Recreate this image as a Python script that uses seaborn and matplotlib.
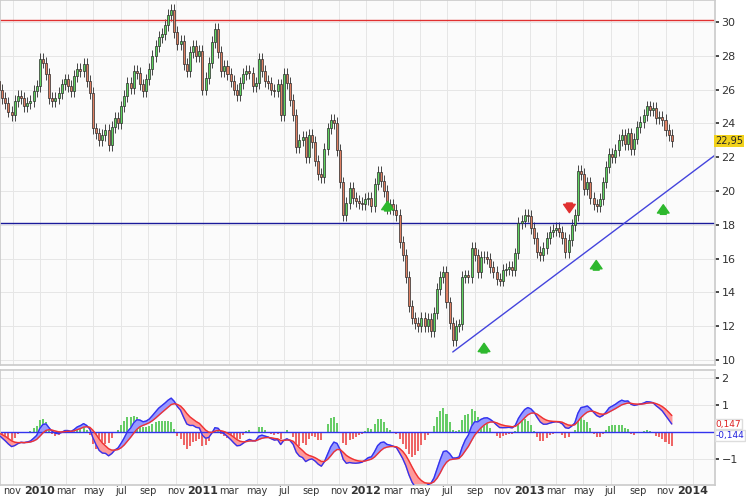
import numpy as np
import pandas as pd
import matplotlib.pyplot as plt
import matplotlib.dates as mdates
import seaborn as sns

# weekly closes
closes = [26.8, 26.5, 26.0, 25.5, 25.2, 24.7, 24.5, 25.3, 25.6, 25.5,
          25.0, 25.2, 25.3, 25.9, 26.2, 27.8, 27.6, 26.9, 25.5, 25.3,
          25.5, 25.8, 26.3, 26.6, 26.2, 25.9, 26.8, 27.2, 27.1, 27.5,
          26.5, 25.8, 23.7, 23.4, 23.0, 23.3, 23.6, 22.7, 23.8, 24.3,
          24.0, 25.0, 25.6, 26.4, 26.1, 27.1, 27.0, 26.3, 25.9, 26.6,
          27.2, 28.0, 28.6, 29.1, 29.3, 29.8, 30.4, 30.7, 29.4, 28.7,
          28.9, 27.5, 27.1, 28.2, 28.6, 28.0, 28.3, 26.0, 26.7, 27.6,
          28.8, 29.6, 28.2, 27.1, 27.4, 26.9, 26.5, 26.0, 25.7, 26.4,
          26.9, 27.1, 27.0, 26.2, 26.4, 27.8, 27.1, 26.5, 26.4, 26.0,
          25.9, 26.3, 24.5, 26.9, 26.4, 25.4, 24.5, 22.6, 23.0, 23.2,
          22.0, 23.3, 22.9, 21.8, 21.0, 20.8, 22.5, 23.7, 24.2, 24.0,
          22.4, 20.5, 18.6, 19.3, 20.2, 19.6, 19.4, 19.3, 19.2, 19.5,
          19.6, 19.1, 20.4, 21.1, 20.6, 20.0, 19.0, 19.2, 18.9, 18.6,
          17.0, 16.2, 14.9, 13.2, 12.5, 12.2, 12.0, 12.5, 12.0, 12.4,
          11.7, 12.8, 14.2, 14.9, 15.2, 13.4, 12.2, 11.2, 12.0, 12.1,
          14.9, 15.0, 14.9, 16.6, 16.2, 15.2, 16.1, 16.1, 16.0, 15.5,
          15.2, 14.8, 14.7, 15.3, 15.4, 15.5, 15.3, 16.3, 18.1, 18.2,
          18.6, 18.5, 17.8, 17.2, 16.4, 16.2, 16.6, 17.2, 17.6, 17.7,
          17.8, 17.6, 17.2, 16.4, 17.1, 18.0, 18.6, 21.2, 21.0, 20.1,
          20.5, 19.6, 19.2, 19.1, 19.5, 20.5, 21.4, 22.2,
          22.0, 22.4, 23.0, 23.3, 22.8, 23.4, 22.5, 23.1, 23.8, 24.1,
          24.5, 25.0, 24.8, 24.9, 24.3, 24.4, 24.2, 23.6, 23.3, 22.95]

resistance = 30.1
support = 18.1
trend_dates = ['2012-07-13', '2014-03-11']
trend_prices = [10.47, 22.5]
up_arrow_dates = ['2012-02-18', '2012-09-21', '2013-05-30', '2013-10-27']
up_arrow_prices = [19.1, 10.7, 15.6, 18.9]
down_arrow_dates = ['2013-03-31']
down_arrow_prices = [19.0]
macd_fast, macd_slow, macd_sig = 8, 17, 6
hist_scale = 1.6

dates = pd.date_range(end='2013-11-15', periods=len(closes), freq='W-FRI')
df = pd.DataFrame({'date': dates, 'close': closes})
df['open'] = df['close'].shift(1).fillna(df['close'].iloc[0] + 0.2)
df['high'] = df[['open', 'close']].max(axis=1) + 0.35
df['low'] = df[['open', 'close']].min(axis=1) - 0.35

ema_f = df['close'].ewm(span=macd_fast, adjust=False).mean()
ema_s = df['close'].ewm(span=macd_slow, adjust=False).mean()
df['macd'] = ema_f - ema_s
df['signal'] = df['macd'].ewm(span=macd_sig, adjust=False).mean()
df['hist'] = (df['macd'] - df['signal']) * hist_scale

sns.set_theme(style='whitegrid')
plt.rcParams['font.family'] = ['DejaVu Sans']
fig = plt.figure(figsize=(7.46, 5), dpi=100)
fig.patch.set_facecolor('white')
ax = fig.add_axes([0.0, 0.27, 0.958, 0.73])
ax2 = fig.add_axes([0.0, 0.03, 0.958, 0.23], sharex=ax)

for a in (ax, ax2):
    a.set_facecolor('#fbfbfb')
    a.grid(True, color='#e6e6e6', linewidth=0.7)
    for s in a.spines.values():
        s.set_color('#cccccc')
    a.yaxis.tick_right()
    a.tick_params(axis='y', labelsize=8, colors='#333333', pad=2, length=3)

# candles
up = df['close'] >= df['open']
ax.vlines(df['date'], df['low'], df['high'], color='#444444', linewidth=0.7, zorder=2)
ax.bar(df['date'][up], (df['close'] - df['open'])[up], bottom=df['open'][up], width=4.5,
       color='#5fd35f', edgecolor='#2a2a2a', linewidth=0.5, zorder=3)
ax.bar(df['date'][~up], (df['open'] - df['close'])[~up], bottom=df['close'][~up], width=4.5,
       color='#df8063', edgecolor='#2a2a2a', linewidth=0.5, zorder=3)

ax.axhline(resistance, color='#e03030', linewidth=1)
ax.axhline(support, color='#1a1a9a', linewidth=1)
ax.plot(pd.to_datetime(trend_dates), trend_prices, color='#4444dd', linewidth=1)

for d, p in zip(pd.to_datetime(up_arrow_dates), up_arrow_prices):
    ax.annotate('', xy=(d, p + 0.45), xytext=(d, p - 0.45),
                arrowprops=dict(arrowstyle='simple,head_width=0.7,tail_width=0.35',
                                color='#2db82d'))
for d, p in zip(pd.to_datetime(down_arrow_dates), down_arrow_prices):
    ax.annotate('', xy=(d, p - 0.45), xytext=(d, p + 0.45),
                arrowprops=dict(arrowstyle='simple,head_width=0.7,tail_width=0.35',
                                color='#e03030'))

ax.set_ylim(9.7, 31.3)
ax.set_yticks(range(10, 31, 2))
ax.text(1.001, (closes[-1] - 9.7) / (31.3 - 9.7), '22,95', transform=ax.transAxes,
        fontsize=7, va='center', ha='left',
        bbox=dict(facecolor='#f2d21b', edgecolor='none', pad=0.8))
ax.tick_params(axis='x', labelbottom=False, length=0)

# MACD panel
d = df['date']
ax2.bar(d, df['hist'], width=4.5, linewidth=0,
        color=np.where(df['hist'] >= 0, '#66cc66', '#ee6666'), zorder=1)
ax2.fill_between(d, df['macd'], df['signal'], where=df['macd'] >= df['signal'],
                 color='#9999ff', interpolate=True, zorder=2)
ax2.fill_between(d, df['macd'], df['signal'], where=df['macd'] < df['signal'],
                 color='#ff9999', interpolate=True, zorder=2)
ax2.plot(d, df['macd'], color='#3333ee', linewidth=1, zorder=3)
ax2.plot(d, df['signal'], color='#ee3333', linewidth=1, zorder=3)
ax2.axhline(0, color='#3333ee', linewidth=1)
ax2.set_ylim(-1.95, 2.3)
ax2.set_yticks([-1, 1, 2])
ax2.text(1.001, 0.53, '0,147', transform=ax2.transAxes, fontsize=6.5, color='#dd2222',
         va='center', bbox=dict(facecolor='white', edgecolor='#dddddd', pad=0.5))
ax2.text(1.001, 0.43, '-0,144', transform=ax2.transAxes, fontsize=6.5, color='#2222dd',
         va='center', bbox=dict(facecolor='white', edgecolor='#dddddd', pad=0.5))

ax2.set_xlim(pd.Timestamp('2009-10-04'), pd.Timestamp('2014-02-19'))
ax2.xaxis.set_major_locator(mdates.MonthLocator(bymonth=[1, 3, 5, 7, 9, 11]))

def month_label(x, pos):
    dt = mdates.num2date(x)
    return str(dt.year) if dt.month == 1 else dt.strftime('%b').lower()

ax2.xaxis.set_major_formatter(plt.FuncFormatter(month_label))
ax2.tick_params(axis='x', labelsize=7, colors='#333333', pad=1, length=0)
fig.canvas.draw()
for lab in ax2.get_xticklabels():
    if lab.get_text().isdigit():
        lab.set_fontweight('bold')
        lab.set_fontsize(8)

fig.savefig('out.png', dpi=100)
